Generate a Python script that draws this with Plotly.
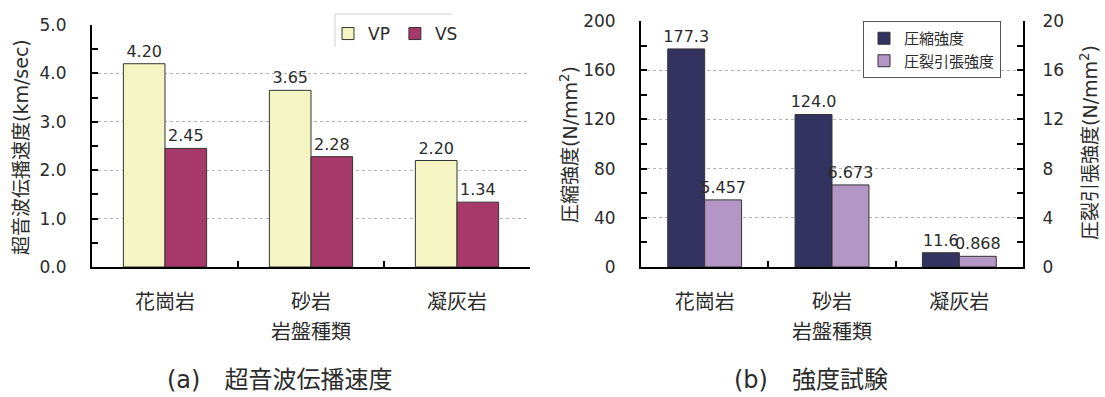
import plotly.graph_objects as go

# Rock types and measured values
rock_types = ["花崗岩", "砂岩", "凝灰岩"]
vp_speed = [4.20, 3.65, 2.20]          # km/sec
vs_speed = [2.45, 2.28, 1.34]          # km/sec
compressive = [177.3, 124.0, 11.6]     # N/mm2
tensile = [5.457, 6.673, 0.868]        # N/mm2

speed_ticks = [0, 1, 2, 3, 4, 5]
comp_ticks = [0, 40, 80, 120, 160, 200]
tens_ticks = [0, 4, 8, 12, 16, 20]

W, H = 1105, 397
FONT = "DejaVu Sans, Noto Sans CJK JP"
TXT = "#2b2b2b"
EDGE = "#333333"


def px(x):
    return x / W


def py(y):
    return 1 - y / H


label_font = dict(size=16, color=TXT, family=FONT)

fig = go.Figure()

# (a) ultrasonic velocity
fig.add_trace(go.Bar(
    x=rock_types, y=vp_speed, name="VP", xaxis="x", yaxis="y",
    marker=dict(color="#F5F5C4", line=dict(color=EDGE, width=1)),
    width=0.285, offset=-0.285,
    text=[f"{v:.2f}" for v in vp_speed], textposition="outside",
    constraintext="none", textfont=label_font, cliponaxis=False,
    legend="legend",
))
fig.add_trace(go.Bar(
    x=rock_types, y=vs_speed, name="VS", xaxis="x", yaxis="y",
    marker=dict(color="#A6396A", line=dict(color=EDGE, width=1)),
    width=0.285, offset=0,
    text=[f"{v:.2f}" for v in vs_speed], textposition="outside",
    constraintext="none", textfont=label_font, cliponaxis=False,
    legend="legend",
))

# (b) strength tests
fig.add_trace(go.Bar(
    x=rock_types, y=compressive, name="圧縮強度", xaxis="x2", yaxis="y2",
    marker=dict(color="#333362", line=dict(color=EDGE, width=1)),
    width=0.29, offset=-0.29,
    text=[f"{v:.1f}" for v in compressive], textposition="outside",
    constraintext="none", textfont=label_font, cliponaxis=False,
    legend="legend2",
))
fig.add_trace(go.Bar(
    x=rock_types, y=tensile, name="圧裂引張強度", xaxis="x2", yaxis="y3",
    marker=dict(color="#B496C6", line=dict(color=EDGE, width=1)),
    width=0.29, offset=0,
    text=[f"{v:.3f}" for v in tensile], textposition="outside",
    constraintext="none", textfont=label_font, cliponaxis=False,
    legend="legend2",
))

cat_axis = dict(
    type="category", range=[-0.5, 2.5], showline=True, linecolor="black",
    linewidth=2, ticks="inside", tickson="boundaries", ticklen=6,
    tickcolor="black", tickwidth=2, showgrid=False, zeroline=False,
    tickfont=dict(size=20, color=TXT, family=FONT), ticklabelstandoff=16,
    automargin=False,
)

val_axis = dict(
    showline=True, linecolor="black", linewidth=2, ticks="inside",
    ticklen=6, tickcolor="black", tickwidth=2, zeroline=False,
    showgrid=True, gridcolor="#b5b5b5", griddash="dot", gridwidth=1,
    tickfont=dict(size=17, color=TXT, family=FONT), automargin=False,
)

fig.update_layout(
    width=W, height=H, margin=dict(l=0, r=0, t=0, b=0, autoexpand=False),
    paper_bgcolor="white", plot_bgcolor="white",
    font=dict(family=FONT, color=TXT),
    barmode="overlay",
    xaxis=dict(cat_axis, domain=[px(92), px(530)], anchor="y"),
    yaxis=dict(val_axis, domain=[py(267), py(25)], anchor="x",
               range=[0, 5], tickvals=speed_ticks, tickformat=".1f",
               minor=dict(dtick=0.5, ticks="inside", ticklen=6,
                          tickcolor="black", tickwidth=2, showgrid=False),
               ticklabelstandoff=20),
    xaxis2=dict(cat_axis, domain=[px(641), px(1023)], anchor="y2"),
    yaxis2=dict(val_axis, domain=[py(267), py(21)], anchor="x2",
                range=[0, 200], tickvals=comp_ticks,
                minor=dict(dtick=20, ticks="inside", ticklen=6,
                           tickcolor="black", tickwidth=2, showgrid=False),
                ticklabelstandoff=20),
    yaxis3=dict(val_axis, overlaying="y2", side="right", anchor="x2",
                range=[0, 20], tickvals=tens_ticks, showgrid=False,
                minor=dict(dtick=2, ticks="inside", ticklen=6,
                           tickcolor="black", tickwidth=2, showgrid=False),
                ticklabelstandoff=14),
    legend=dict(orientation="h", x=px(328), y=py(16), xanchor="left",
                yanchor="top", bgcolor="rgba(0,0,0,0)", borderwidth=0,
                font=dict(size=17, color=TXT, family=FONT),
                traceorder="normal"),
    legend2=dict(orientation="v", x=px(863), y=py(21), xanchor="left",
                 yanchor="top", bgcolor="white", bordercolor="#555",
                 borderwidth=1, font=dict(size=15, color=TXT, family=FONT),
                 traceorder="normal"),
    showlegend=True,
)

# light frame edges of the (a) legend box
fig.add_shape(type="line", xref="paper", yref="paper",
              x0=px(335), x1=px(452), y0=py(14), y1=py(14),
              line=dict(color="#cfcfcf", width=1))
fig.add_shape(type="line", xref="paper", yref="paper",
              x0=px(335), x1=px(335), y0=py(14), y1=py(47),
              line=dict(color="#cfcfcf", width=1))

title_font = dict(size=19, color=TXT, family=FONT)
annotations = [
    dict(text="超音波伝播速度(km/sec)", x=px(21), y=py(147), textangle=-90,
         font=title_font),
    dict(text="岩盤種類", x=px(311), y=py(332), font=dict(size=20, color=TXT, family=FONT)),
    dict(text="圧縮強度(N/mm<sup>2</sup>)", x=px(569), y=py(144), textangle=-90,
         font=title_font),
    dict(text="圧裂引張強度(N/mm<sup>2</sup>)", x=px(1089), y=py(143),
         textangle=-90, font=title_font),
    dict(text="岩盤種類", x=px(832), y=py(332), font=dict(size=20, color=TXT, family=FONT)),
    dict(text="(a)\u3000超音波伝播速度", x=px(279), y=py(380),
         font=dict(size=24, color=TXT, family=FONT)),
    dict(text="(b)\u3000強度試験", x=px(811), y=py(380),
         font=dict(size=24, color=TXT, family=FONT)),
]
for a in annotations:
    a.update(xref="paper", yref="paper", showarrow=False,
             xanchor="center", yanchor="middle")
fig.update_layout(annotations=annotations)

fig.write_html("out.html")
